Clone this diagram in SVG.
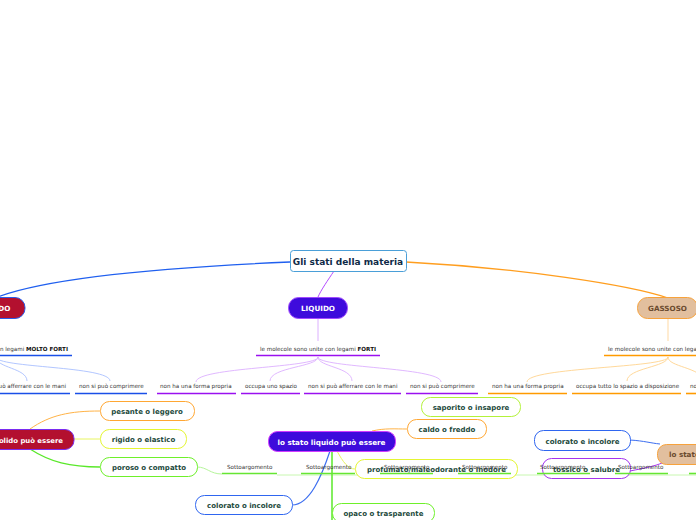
<svg xmlns="http://www.w3.org/2000/svg" width="696" height="520" viewBox="0 0 696 520">
<style>
.b{font-family:"DejaVu Sans","Liberation Sans",sans-serif;font-weight:bold}
.s{font-family:"DejaVu Sans","Liberation Sans",sans-serif;font-size:5.6px;fill:#333}
.lbl{font-size:7px;fill:#1d4a3c;text-anchor:middle}
.wt{font-size:7.2px;fill:#fff}
.c{fill:none}
.box{fill:#fff;stroke-width:1}
.ul{stroke-width:1.6}
</style>
<rect width="696" height="520" fill="#fff"/>
<g id="connectors" class="c">
  <path d="M290,262 C150,268 40,280 -5,298" stroke="#1f5fef" stroke-width="1.3"/>
  <path d="M406,262 C520,268 630,285 668,298" stroke="#ff9e1f" stroke-width="1.3"/>
  <path d="M334,271 C328,280 321,290 318,297" stroke="#b44bff" stroke-width="1"/>
  <path d="M318,318 L318,341" stroke="#dcb0ff"/>
  <path d="M668,318 L668,341" stroke="#ffd9a3"/>
  <g stroke="#a9c0ff" stroke-width="0.9">
    <path d="M-4,357 C-4,368 27,368 27,381"/>
    <path d="M-4,357 C-4,368 110,366 110,381"/>
  </g>
  <g stroke="#dcb0ff" stroke-width="0.9">
    <path d="M318,357 C318,368 196,367 196,382"/>
    <path d="M318,357 C318,367 270,367 270,381"/>
    <path d="M318,357 C318,367 352,367 352,381"/>
    <path d="M318,357 C318,368 441,367 441,382"/>
  </g>
  <g stroke="#ffd48f" stroke-width="0.9">
    <path d="M668,357 C668,368 527,367 527,382"/>
    <path d="M668,357 C668,367 627,368 627,381"/>
    <path d="M668,357 C668,367 700,367 705,381"/>
  </g>
  <path d="M30,429 C50,415 70,411 100,411" stroke="#ffb347"/>
  <path d="M74,439 L100,439" stroke="#e8f560"/>
  <path d="M30,449 C50,462 70,467 100,467" stroke="#5ae82a" stroke-width="1.3"/>
  <path d="M197,467 C207,467 210,474 222,474" stroke="#b5f59a"/>
  <path d="M277,475 L700,475" stroke="#c8f7b0"/>
  <path d="M372,431 C385,428 395,429 407,429" stroke="#ffb347"/>
  <path d="M332,451 L332,520" stroke="#5ae82a" stroke-width="1.5"/>
  <path d="M330,451 C322,475 310,505 292,505" stroke="#3c6ef0" stroke-width="1.2"/>
  <path d="M337,451 C343,462 348,469 355,469" stroke="#e8f560"/>
  <path d="M630,440 C645,441 650,443 660,444" stroke="#3c6ef0"/>
  <path d="M630,471 C645,468 655,466 662,463" stroke="#a534ee"/>
</g>
<g id="root">
  <rect x="290.5" y="250.5" width="116" height="21" rx="3" fill="#fff" stroke="#4a9fd8"/>
  <text class="b" x="348" y="264.5" font-size="9" fill="#0e2a47" text-anchor="middle">Gli stati della materia</text>
</g>
<g id="solido">
  <rect x="-35" y="297.5" width="60" height="21" rx="10" fill="#b3102f" stroke="#2a5be8"/>
  <text class="b wt" x="-5" y="310.5" text-anchor="middle">SOLIDO</text>
</g>
<g id="liquido">
  <rect x="288.5" y="297.5" width="59" height="21" rx="10" fill="#3e0bdc" stroke="#a24bff"/>
  <text class="b wt" x="318" y="310.5" text-anchor="middle">LIQUIDO</text>
</g>
<g id="gassoso">
  <rect x="637.5" y="297.5" width="60" height="21" rx="10" fill="#e2bf9e" stroke="#f7a23b"/>
  <text class="b" x="667.5" y="310.5" font-size="7.2" fill="#6a4a2e" text-anchor="middle">GASSOSO</text>
</g>
<g id="solido-legami">
  <text class="s" x="68" y="351" text-anchor="end">le molecole sono unite con legami <tspan font-weight="bold" fill="#111">MOLTO FORTI</tspan></text>
  <line class="ul" x1="-80" y1="355.5" x2="72" y2="355.5" stroke="#1a4fe8"/>
</g>
<g id="liquido-legami">
  <text class="s" x="318" y="351" text-anchor="middle">le molecole sono unite con legami <tspan font-weight="bold" fill="#111">FORTI</tspan></text>
  <line class="ul" x1="256" y1="355.5" x2="380" y2="355.5" stroke="#9a10f0"/>
</g>
<g id="gassoso-legami">
  <text class="s" x="608" y="351">le molecole sono unite con legami</text>
  <line class="ul" x1="604" y1="355.5" x2="700" y2="355.5" stroke="#ff9a00"/>
</g>
<g id="solido-figli">
  <text class="s" x="66" y="388" text-anchor="end">non si può afferrare con le mani</text>
  <line class="ul" x1="-30" y1="393.5" x2="70" y2="393.5" stroke="#1a4fe8"/>
  <text class="s" x="79" y="388">non si può comprimere</text>
  <line class="ul" x1="75" y1="393.5" x2="147" y2="393.5" stroke="#1a4fe8"/>
</g>
<g id="liquido-figli">
  <text class="s" x="160" y="388">non ha una forma propria</text>
  <line class="ul" x1="157" y1="393.5" x2="236" y2="393.5" stroke="#9a10f0"/>
  <text class="s" x="245" y="388">occupa uno spazio</text>
  <line class="ul" x1="241" y1="393.5" x2="300" y2="393.5" stroke="#9a10f0"/>
  <text class="s" x="308" y="388">non si può afferrare con le mani</text>
  <line class="ul" x1="304" y1="393.5" x2="401" y2="393.5" stroke="#9a10f0"/>
  <text class="s" x="410" y="388">non si può comprimere</text>
  <line class="ul" x1="406" y1="393.5" x2="478" y2="393.5" stroke="#9a10f0"/>
</g>
<g id="gassoso-figli">
  <text class="s" x="492" y="388">non ha una forma propria</text>
  <line class="ul" x1="488" y1="393.5" x2="567" y2="393.5" stroke="#ff9a00"/>
  <text class="s" x="576" y="388">occupa tutto lo spazio a disposizione</text>
  <line class="ul" x1="572" y1="393.5" x2="681" y2="393.5" stroke="#ff9a00"/>
  <text class="s" x="690" y="388">non</text>
  <line class="ul" x1="686" y1="393.5" x2="700" y2="393.5" stroke="#ff9a00"/>
</g>
<g id="stato-solido">
  <rect x="-52" y="429.5" width="126" height="20" rx="9" fill="#b3102f" stroke="#7a2cf0"/>
  <text class="b" x="63" y="442.5" font-size="6.9" fill="#fff" text-anchor="end">lo stato solido può essere</text>
</g>
<g id="pesante">
  <rect class="box" x="100.5" y="401.5" width="94" height="19" rx="9" stroke="#ffa733"/>
  <text class="b lbl" x="147" y="414">pesante o leggero</text>
</g>
<g id="rigido">
  <rect class="box" x="100.5" y="429.5" width="86" height="19" rx="9" stroke="#e4f532"/>
  <text class="b lbl" x="143.5" y="442">rigido o elastico</text>
</g>
<g id="poroso">
  <rect class="box" x="100.5" y="457.5" width="97" height="19" rx="9" stroke="#6ef02a"/>
  <text class="b lbl" x="149" y="470">poroso o compatto</text>
</g>
<g id="stato-liquido">
  <rect x="268.5" y="431.5" width="127" height="20" rx="9" fill="#3e0bdc" stroke="#d23cff"/>
  <text class="b wt" x="331.5" y="444.5" text-anchor="middle">lo stato liquido può essere</text>
</g>
<g id="saporito">
  <rect class="box" x="421.5" y="397.5" width="99" height="19" rx="9" stroke="#b3f23a"/>
  <text class="b lbl" x="471" y="410">saporito o insapore</text>
</g>
<g id="caldo">
  <rect class="box" x="407.5" y="419.5" width="79" height="19" rx="9" stroke="#ffa733"/>
  <text class="b lbl" x="447" y="432">caldo o freddo</text>
</g>
<g id="profumato">
  <rect class="box" x="355.5" y="459.5" width="162" height="19" rx="9" stroke="#e4f532"/>
  <text class="b lbl" x="436.5" y="472">profumato/maleodorante o inodore</text>
</g>
<g id="opaco">
  <rect class="box" x="332.5" y="503.5" width="102" height="19" rx="9" stroke="#6ef02a"/>
  <text class="b lbl" x="383.5" y="516">opaco o trasparente</text>
</g>
<g id="colorato-liquido">
  <rect class="box" x="195.5" y="495.5" width="97" height="19" rx="9" stroke="#2f66f0"/>
  <text class="b lbl" x="244" y="508">colorato o incolore</text>
</g>
<g id="stato-gassoso">
  <rect x="657.5" y="444.5" width="60" height="20" rx="9" fill="#e2bf9e" stroke="#f7a23b"/>
  <text class="b" x="669" y="457" font-size="7.2" fill="#6a4a2e">lo stato gassoso può essere</text>
</g>
<g id="colorato-gas">
  <rect class="box" x="534.5" y="430.5" width="96" height="20" rx="9" stroke="#2f66f0"/>
  <text class="b lbl" x="582.5" y="443.5">colorato e incolore</text>
</g>
<g id="tossico">
  <rect class="box" x="542.5" y="458.5" width="88" height="20" rx="9" stroke="#a534ee"/>
  <text class="b lbl" x="586.5" y="471.5">tossico o salubre</text>
</g>
<g id="sottoargomenti">
  <text class="s" x="227" y="469">Sottoargomento</text>
  <line class="ul" x1="222" y1="473.5" x2="277" y2="473.5" stroke="#66e633"/>
  <text class="s" x="306" y="469">Sottoargomento</text>
  <line class="ul" x1="301" y1="473.5" x2="355" y2="473.5" stroke="#66e633"/>
  <text class="s" x="384" y="469">Sottoargomento</text>
  <line class="ul" x1="380" y1="473.5" x2="433" y2="473.5" stroke="#66e633"/>
  <text class="s" x="462" y="469">Sottoargomento</text>
  <line class="ul" x1="458" y1="473.5" x2="511" y2="473.5" stroke="#66e633"/>
  <text class="s" x="540" y="469">Sottoargomento</text>
  <line class="ul" x1="537" y1="473.5" x2="590" y2="473.5" stroke="#66e633"/>
  <text class="s" x="618" y="469">Sottoargomento</text>
  <line class="ul" x1="615" y1="473.5" x2="668" y2="473.5" stroke="#66e633"/>
  <line class="ul" x1="689" y1="473.5" x2="700" y2="473.5" stroke="#66e633"/>
</g>
</svg>
